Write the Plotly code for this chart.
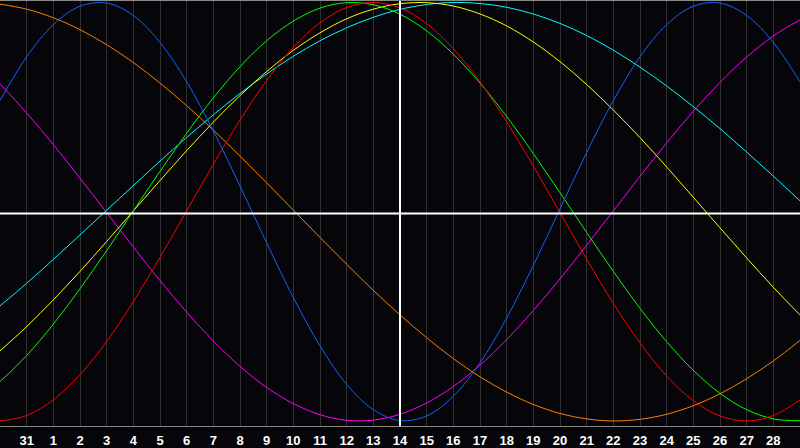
import plotly.graph_objects as go

# day offsets across the chart (0 = left edge), one sample per day
days = list(range(31))
tick_pos = list(range(1, 30))
tick_text = ["31"] + [str(d) for d in range(1, 29)]

# curve values (range -1 .. 1)
blue = [0.531, 0.740, 0.894, 0.982, 0.997, 0.938, 0.809, 0.621, 0.386, 0.123,
        -0.149, -0.410, -0.641, -0.825, -0.946, -0.998, -0.976, -0.882, -0.722, -0.508,
        -0.257, 0.014, 0.283, 0.531, 0.740, 0.894, 0.982, 0.997, 0.938, 0.809, 0.621]
red = [-1.000, -0.974, -0.899, -0.779, -0.620, -0.430, -0.218, 0.004, 0.227, 0.438,
       0.627, 0.785, 0.903, 0.976, 1.000, 0.974, 0.899, 0.779, 0.620, 0.430,
       0.218, -0.004, -0.227, -0.438, -0.627, -0.785, -0.903, -0.976, -1.000, -0.974, -0.899]
green = [-0.812, -0.687, -0.537, -0.368, -0.186, 0.004, 0.193, 0.375, 0.544, 0.693,
         0.817, 0.911, 0.973, 0.999, 0.989, 0.944, 0.864, 0.753, 0.615, 0.455,
         0.278, 0.091, -0.099, -0.285, -0.462, -0.621, -0.758, -0.868, -0.946, -0.990, -0.999]
magenta = [0.611, 0.472, 0.321, 0.160, -0.004, -0.169, -0.329, -0.480, -0.618, -0.739,
           -0.840, -0.917, -0.970, -0.997, -0.996, -0.968, -0.914, -0.835, -0.733, -0.611,
           -0.472, -0.321, -0.160, 0.004, 0.169, 0.329, 0.480, 0.618, 0.739, 0.840, 0.917]
yellow = [-0.665, -0.549, -0.421, -0.285, -0.142, 0.004, 0.149, 0.292, 0.428, 0.555,
          0.670, 0.771, 0.855, 0.922, 0.968, 0.994, 0.999, 0.983, 0.945, 0.888,
          0.811, 0.717, 0.608, 0.486, 0.354, 0.214, 0.069, -0.077, -0.221, -0.361, -0.493]
orange = [0.992, 0.968, 0.927, 0.870, 0.798, 0.713, 0.615, 0.507, 0.390, 0.266,
          0.138, 0.008, -0.123, -0.251, -0.376, -0.493, -0.602, -0.702, -0.789, -0.862,
          -0.921, -0.964, -0.990, -1.000, -0.992, -0.968, -0.927, -0.870, -0.798, -0.713, -0.615]
cyan = [-0.450, -0.342, -0.228, -0.111, 0.007, 0.125, 0.242, 0.355, 0.463, 0.565,
        0.658, 0.743, 0.817, 0.879, 0.929, 0.967, 0.990, 1.000, 0.995, 0.977,
        0.945, 0.900, 0.842, 0.772, 0.691, 0.601, 0.502, 0.397, 0.285, 0.170, 0.052]

series = [
    (orange, "#ff8000"),
    (magenta, "#ff00ff"),
    (cyan, "#00ffff"),
    (yellow, "#ffff00"),
    (green, "#00ff00"),
    (red, "#ff0000"),
    (blue, "#0f64ff"),
]

fig = go.Figure()
for vals, col in series:
    fig.add_trace(go.Scatter(x=days, y=vals, mode="lines",
                             line=dict(color=col, width=1, shape="spline"),
                             hoverinfo="skip", showlegend=False))

# zero line and "today" line
fig.add_shape(type="line", xref="paper", yref="paper", x0=0, x1=1, y0=0.5, y1=0.5,
              line=dict(color="white", width=2))
fig.add_shape(type="line", xref="x", yref="paper", x0=15, x1=15, y0=0, y1=1,
              line=dict(color="white", width=2))

fig.update_layout(
    width=800, height=448,
    margin=dict(l=0, r=0, t=0, b=20),
    paper_bgcolor="#060509",
    plot_bgcolor="#060509",
    showlegend=False,
)
fig.update_xaxes(range=[0, 30], tickmode="array", tickvals=tick_pos, ticktext=tick_text,
                 showgrid=True, gridcolor="#303030", gridwidth=1, zeroline=False,
                 showline=True, linecolor="#8a8a8a", linewidth=1, mirror=True,
                 ticks="", ticklabelstandoff=2,
                 tickfont=dict(family="Liberation Sans", size=13, color="white", weight="bold"))
fig.update_yaxes(range=[-1.024, 1.007], showgrid=False, zeroline=False,
                 showticklabels=False, showline=True, linecolor="#8a8a8a", linewidth=1)

# page body has a default 8px margin; drop it so the figure fills the window
fig.write_html("out.html", config={"displayModeBar": False},
               post_script="document.body.style.margin='0';")
